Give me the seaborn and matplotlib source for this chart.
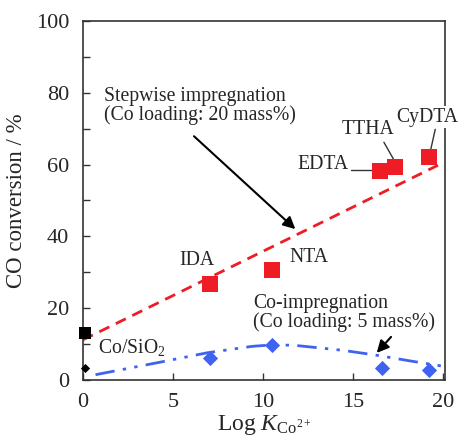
import matplotlib
matplotlib.use("Agg")
import matplotlib.pyplot as plt
import numpy as np
import pandas as pd
import seaborn as sns

sns.set_theme(style="ticks")
plt.rcParams['font.family'] = ['Liberation Serif', 'DejaVu Serif']
plt.rcParams['mathtext.fontset'] = 'custom'
plt.rcParams['mathtext.rm'] = 'Liberation Serif'
plt.rcParams['mathtext.it'] = 'Liberation Serif:italic'

# Stepwise impregnation (20 mass%)
step_names = ['IDA', 'NTA', 'EDTA', 'TTHA', 'CyDTA']
step_logk = [7.05, 10.5, 16.5, 17.3, 19.2]
step_conv = [26.8, 30.7, 58.1, 59.2, 62.0]
step_fit_x = [0.0, 19.7]
step_fit_y = [11.2, 59.8]

# Co-impregnation (5 mass%)
co_logk = [7.05, 10.5, 16.6, 19.2]
co_conv = [6.1, 9.8, 3.3, 2.8]
co_curve_x = [0.7, 4.3, 6.9, 9.4, 10.5, 11.7, 14.4, 16.2, 18.2, 20.3]
co_curve_y = [1.5, 5.0, 7.6, 9.4, 9.8, 9.7, 8.3, 7.0, 5.3, 3.6]

# Co/SiO2 reference catalysts
ref_logk = [0.1, 0.1]
ref_conv = [13.1, 3.4]

red = '#ee1c24'
blue = '#3f63f0'

fig, ax = plt.subplots(figsize=(4.58, 4.43), dpi=100)
fig.subplots_adjust(left=0.181, right=0.972, bottom=0.142, top=0.953)

fit = pd.DataFrame({'x': step_fit_x, 'y': step_fit_y})
sns.lineplot(data=fit, x='x', y='y', ax=ax, color=red, lw=2, sort=False,
             estimator=None, linestyle=(0, (4, 2.6)), zorder=2)
curve = pd.DataFrame({'x': co_curve_x, 'y': co_curve_y})
sns.lineplot(data=curve, x='x', y='y', ax=ax, color=blue, lw=2, sort=False,
             estimator=None, linestyle=(0, (7, 3, 1.2, 3, 1.2, 3)), zorder=2,
             clip_on=False)

sns.scatterplot(x=step_logk, y=step_conv, ax=ax, marker='s', s=120,
                color=red, linewidth=0, zorder=4)
sns.scatterplot(x=co_logk, y=co_conv, ax=ax, marker='D', s=60,
                color=blue, linewidth=0, zorder=4)
sns.scatterplot(x=ref_logk[:1], y=ref_conv[:1], ax=ax, marker='s', s=78,
                color='black', linewidth=0, zorder=5, clip_on=False)
sns.scatterplot(x=ref_logk[1:], y=ref_conv[1:], ax=ax, marker='D', s=22,
                color='black', linewidth=0, zorder=5, clip_on=False)

ax.set_xlim(0, 20.1)
ax.set_ylim(0, 100)
ax.set_xticks([0, 5, 10, 15, 20])
ax.set_yticks(np.arange(0, 101, 20))
ax.set_yticks(np.arange(10, 100, 20), minor=True)
ax.tick_params(axis='both', which='both', direction='in', length=5,
               width=1, labelsize=16, color='#333333')
ax.tick_params(axis='y', pad=10)
ax.tick_params(axis='x', pad=9)
for sp in ax.spines.values():
    sp.set_linewidth(1.2)
    sp.set_color('#333333')

ax.set_ylabel('CO conversion / %', fontsize=16.5, labelpad=6)
ax.set_xlabel(r'Log $K_{\mathrm{Co}^{2+}}$', fontsize=17, labelpad=1)

fs = 14.2
ax.text(1.17, 76.3, 'Stepwise impregnation\n(Co loading: 20 mass%)',
        fontsize=fs, ha='left', va='center', linespacing=0.92)
ax.annotate('', xy=(11.9, 41.5), xytext=(6.05, 68.4),
            arrowprops=dict(arrowstyle='-|>,head_length=0.6,head_width=0.3',
                            color='black', lw=1.5))
ax.text(9.45, 18.6, 'Co-impregnation\n(Co loading: 5 mass%)',
        fontsize=fs, ha='left', va='center', linespacing=0.92)
ax.annotate('', xy=(16.2, 7.0), xytext=(17.2, 12.6),
            arrowprops=dict(arrowstyle='-|>,head_length=0.6,head_width=0.3',
                            color='black', lw=1.5))

ax.text(0.85, 9.2, r'Co/SiO$_2$', fontsize=fs, ha='left', va='center')
ax.text(6.3, 33.2, 'IDA', fontsize=fs, ha='center', va='center')
ax.text(12.55, 34.2, 'NTA', fontsize=fs, ha='center', va='center')
ax.text(14.75, 60.0, 'EDTA', fontsize=fs, ha='right', va='center')
ax.plot([14.85, 16.1], [58.4, 58.4], color='#333333', lw=1)
ax.text(15.8, 69.8, 'TTHA', fontsize=fs, ha='center', va='center')
ax.plot([16.7, 17.3], [66.2, 60.9], color='#333333', lw=1)
ax.text(19.1, 73.2, 'CyDTA', fontsize=fs, ha='center', va='center',
        clip_on=False, zorder=6,
        bbox=dict(facecolor='white', edgecolor='none', pad=1))
ax.plot([19.55, 19.3], [69.8, 64.2], color='#333333', lw=1)

plt.savefig('out.png', dpi=100)
